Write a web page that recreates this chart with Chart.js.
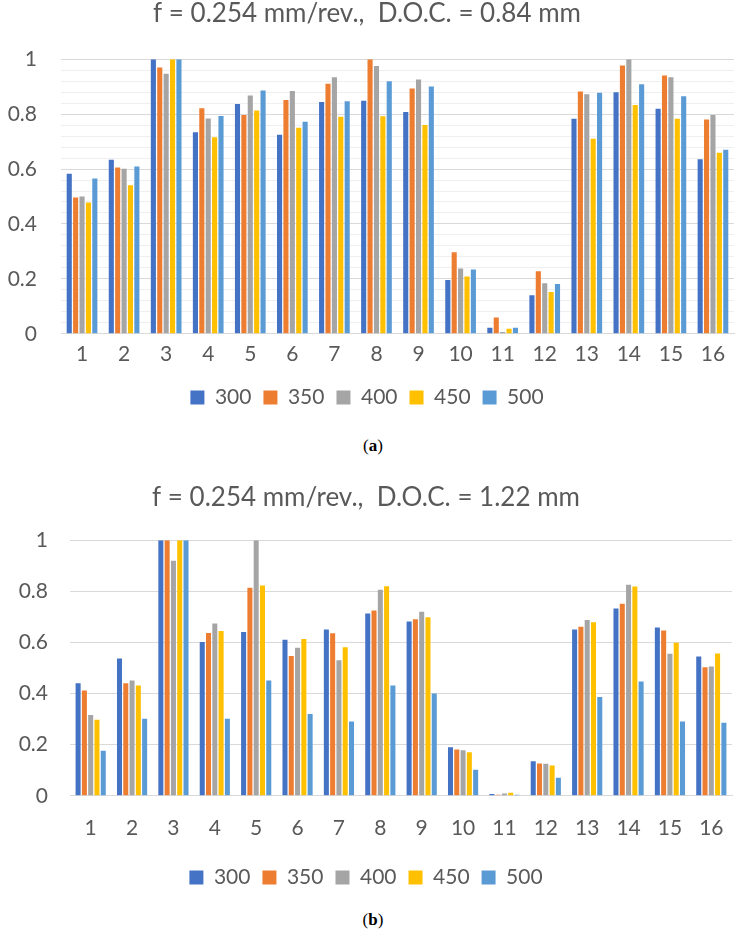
<!DOCTYPE html>
<html>
<head>
<meta charset="utf-8">
<script src="https://cdn.jsdelivr.net/npm/chart.js@4.4.0/dist/chart.umd.min.js"></script>
<style>
  body { margin: 0; background: #fff; width: 746px; height: 939px; position: relative; overflow: hidden; }
  .box { position: absolute; left: 0; width: 746px; }
  .cap { position: absolute; left: 0; width: 746px; text-align: center; font-family: 'Liberation Serif', serif; font-size: 17px; color: #000; }
</style>
</head>
<body>
<div class="box" id="boxA" style="top:0; height:418px;"><canvas id="chartA"></canvas></div>
<div class="cap" style="top:436px;">(<b>a</b>)</div>
<div class="box" id="boxB" style="top:480px; height:418px;"><canvas id="chartB"></canvas></div>
<div class="cap" style="top:910px;">(<b>b</b>)</div>
<script>
// categories and series
const categories = ['1', '2', '3', '4', '5', '6', '7', '8', '9', '10', '11', '12', '13', '14', '15', '16'];
const seriesNames = ['300', '350', '400', '450', '500'];
const seriesColors = ['#4472C4', '#ED7D31', '#A5A5A5', '#FFC000', '#5B9BD5'];

// (a) D.O.C. = 0.84 mm
const a300 = [0.583, 0.634, 1.000, 0.734, 0.837, 0.725, 0.844, 0.849, 0.808, 0.196, 0.022, 0.140, 0.783, 0.880, 0.820, 0.636];
const a350 = [0.496, 0.606, 0.970, 0.821, 0.797, 0.851, 0.911, 1.000, 0.893, 0.297, 0.059, 0.228, 0.882, 0.977, 0.941, 0.780];
const a400 = [0.500, 0.601, 0.947, 0.784, 0.868, 0.884, 0.934, 0.975, 0.926, 0.238, 0.007, 0.184, 0.872, 1.000, 0.934, 0.797];
const a450 = [0.478, 0.541, 1.000, 0.716, 0.813, 0.750, 0.790, 0.792, 0.760, 0.209, 0.018, 0.152, 0.710, 0.833, 0.783, 0.659];
const a500 = [0.566, 0.609, 1.000, 0.793, 0.886, 0.772, 0.847, 0.920, 0.901, 0.234, 0.022, 0.181, 0.878, 0.909, 0.865, 0.670];

// (b) D.O.C. = 1.22 mm
const b300 = [0.440, 0.537, 1.000, 0.602, 0.641, 0.611, 0.651, 0.713, 0.682, 0.190, 0.007, 0.135, 0.651, 0.733, 0.658, 0.545];
const b350 = [0.412, 0.440, 1.000, 0.637, 0.814, 0.547, 0.636, 0.725, 0.691, 0.181, 0.004, 0.126, 0.661, 0.751, 0.647, 0.503];
const b400 = [0.316, 0.451, 0.920, 0.674, 1.000, 0.579, 0.530, 0.806, 0.720, 0.178, 0.009, 0.125, 0.688, 0.826, 0.556, 0.506];
const b450 = [0.298, 0.432, 1.000, 0.645, 0.823, 0.613, 0.581, 0.820, 0.699, 0.170, 0.012, 0.119, 0.679, 0.819, 0.599, 0.557];
const b500 = [0.176, 0.301, 1.000, 0.301, 0.451, 0.320, 0.291, 0.432, 0.400, 0.102, 0.004, 0.071, 0.387, 0.447, 0.291, 0.286];

const fontFamily = 'Lato, "Open Sans", sans-serif';
const textColor = '#595959';

function isMajor(v) {
  return Math.abs(v * 5 - Math.round(v * 5)) < 1e-6;
}

function makeChart(id, title, rows, opts) {
  const ctx = document.getElementById(id);
  new Chart(ctx, {
    type: 'bar',
    data: {
      labels: categories,
      datasets: rows.map((d, i) => ({
        label: seriesNames[i],
        data: d,
        backgroundColor: seriesColors[i],
        categoryPercentage: 0.76,
        barPercentage: 0.8
      }))
    },
    options: {
      responsive: true,
      maintainAspectRatio: false,
      animation: false,
      layout: {
        padding: { left: 0, right: opts.padRight, top: 0, bottom: 0 }
      },
      scales: {
        y: {
          min: 0,
          max: 1,
          border: { display: false },
          afterFit: function(scale) {
            scale.width = opts.yWidth;
          },
          ticks: {
            stepSize: opts.step,
            autoSkip: false,
            color: textColor,
            padding: opts.yPad,
            font: { family: fontFamily, size: 21 },
            callback: function(v) {
              if (!isMajor(v)) return '';
              return String(Math.round(v * 10) / 10);
            }
          },
          grid: {
            drawTicks: false,
            lineWidth: 1,
            color: function(c) {
              return isMajor(c.tick.value) ? '#d9d9d9' : '#efefef';
            }
          }
        },
        x: {
          border: { display: true, color: '#d9d9d9' },
          grid: { display: false, drawTicks: false },
          afterFit: function(scale) {
            scale.height -= opts.xShrink;
          },
          ticks: {
            color: textColor,
            padding: opts.xPad,
            font: { family: fontFamily, size: 21 }
          }
        }
      },
      plugins: {
        title: {
          display: true,
          text: title,
          color: textColor,
          font: { family: fontFamily, size: 26, weight: 'normal' },
          padding: { top: opts.titleTop, bottom: opts.titleGap }
        },
        legend: {
          position: 'bottom',
          labels: {
            color: textColor,
            boxWidth: 14,
            boxHeight: 14,
            padding: 12,
            font: { family: fontFamily, size: 21 }
          }
        },
        tooltip: { enabled: false }
      }
    }
  });
}

document.addEventListener('DOMContentLoaded', function() {
  makeChart('chartA', 'f = 0.254 mm/rev.,  D.O.C. = 0.84 mm', [a300, a350, a400, a450, a500],
    { step: 0.04, yWidth: 61, yPad: 24, padRight: 12, xPad: 8, xShrink: 0, titleTop: -2, titleGap: 30 });
  makeChart('chartB', 'f = 0.254 mm/rev.,  D.O.C. = 1.22 mm', [b300, b350, b400, b450, b500],
    { step: 0.2, yWidth: 70, yPad: 22, padRight: 14, xPad: 20, xShrink: 6, titleTop: 2, titleGap: 27 });
});
</script>
</body>
</html>
